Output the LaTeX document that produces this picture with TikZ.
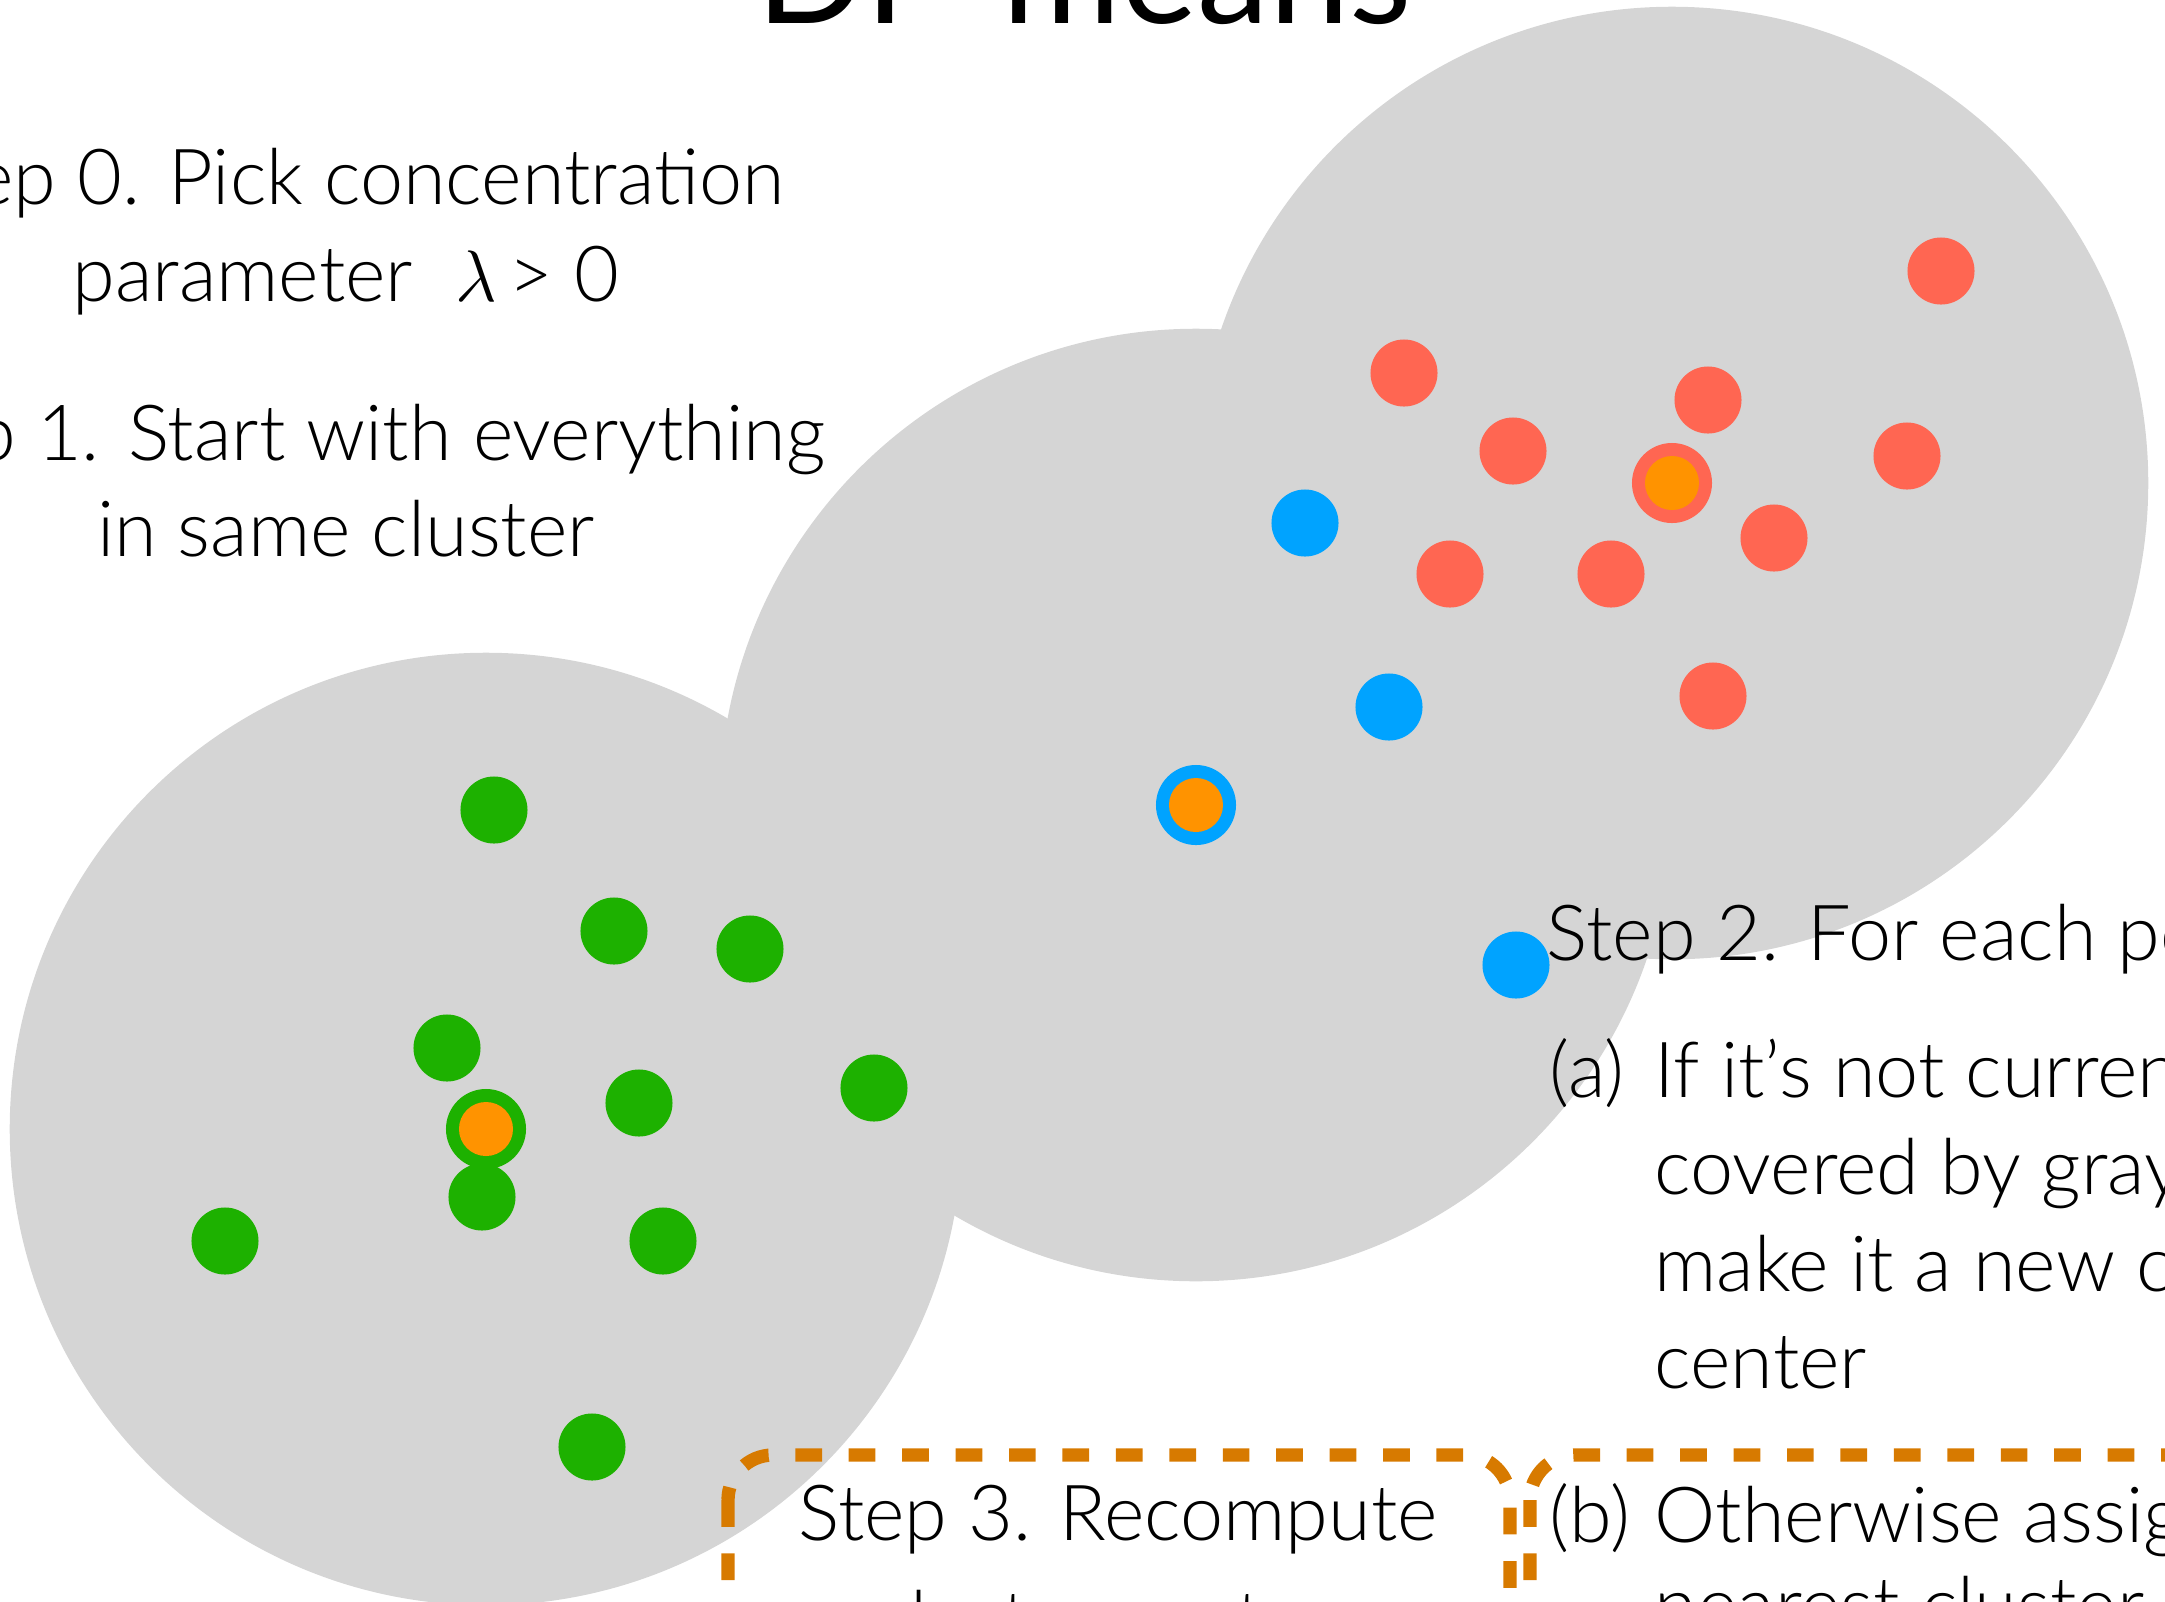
\documentclass[tikz,border=0pt]{standalone}
\usepackage{fontspec}
\setmainfont{Lato Light}
\newfontfamily\titlefont{Lato}
\definecolor{disc}{HTML}{D5D5D5}
\definecolor{cred}{HTML}{FF6652}
\definecolor{cblue}{HTML}{00A3FF}
\definecolor{cgreen}{HTML}{1DB100}
\definecolor{corange}{HTML}{FF9300}
\definecolor{cdash}{HTML}{D77A00}
\tikzset{
  txt/.style={font=\fontsize{22pt}{26pt}\selectfont, inner sep=0pt, text=black},
  pt/.style={circle, fill=#1, draw=none, inner sep=0pt, minimum size=0.67cm},
  ring/.style={circle, fill=#1, draw=none, inner sep=0pt, minimum size=0.80cm},
  core/.style={circle, fill=corange, draw=none, inner sep=0pt, minimum size=0.54cm},
  dashbox/.style={draw=cdash, line width=0.133cm, dash pattern=on 0.267cm off 0.267cm, rounded corners=0.45cm}
}
\begin{document}
\begin{tikzpicture}[x=0.01cm, y=-0.01cm]
\useasboundingbox (0,0) rectangle (2165,1602);
\clip (0,0) rectangle (2165,1602);
% gray discs
\fill[disc] (486,1129) circle[radius=4.76cm];
\fill[disc] (1196,805) circle[radius=4.76cm];
\fill[disc] (1672,483) circle[radius=4.76cm];
% title
\node[anchor=base, font=\titlefont\fontsize{41pt}{49pt}\selectfont, inner sep=0pt] (title) at (1084,23) {DP-means};
% left text
\node[txt, anchor=base] (s0a) at (346,204) {Step 0. Pick concentration};
\node[txt, anchor=base] (s0b) at (346,301) {parameter~ $\lambda\,$> 0};
\node[txt, anchor=base] (s1a) at (346,460) {Step 1. Start with everything};
\node[txt, anchor=base] (s1b) at (346,556) {in same cluster};
% red cluster
\node[pt=cred] (r1) at (1941,271) {};
\node[pt=cred] (r2) at (1404,373) {};
\node[pt=cred] (r3) at (1708,400) {};
\node[pt=cred] (r4) at (1513,451) {};
\node[pt=cred] (r5) at (1907,456) {};
\node[pt=cred] (r7) at (1774,538) {};
\node[pt=cred] (r8) at (1450,574) {};
\node[pt=cred] (r9) at (1611,574) {};
\node[pt=cred] (r10) at (1713,696) {};
\node[ring=cred] (rc) at (1672,483) {};
\node[core] (rcc) at (rc) {};
% blue cluster
\node[pt=cblue] (b1) at (1305,523) {};
\node[pt=cblue] (b2) at (1389,707) {};
\node[ring=cblue] (bc) at (1196,805) {};
\node[core] (bcc) at (bc) {};
% green cluster
\node[pt=cgreen] (g1) at (494,810) {};
\node[pt=cgreen] (g2) at (614,931) {};
\node[pt=cgreen] (g3) at (750,949) {};
\node[pt=cgreen] (g4) at (447,1048) {};
\node[pt=cgreen] (g5) at (639,1103) {};
\node[pt=cgreen] (g6) at (874,1088) {};
\node[pt=cgreen] (g8) at (482,1197) {};
\node[pt=cgreen] (g9) at (225,1241) {};
\node[pt=cgreen] (g10) at (663,1241) {};
\node[pt=cgreen] (g11) at (592,1447) {};
\node[ring=cgreen] (gc) at (486,1129) {};
\node[core] (gcc) at (gc) {};
% new point
\node[pt=cblue] (b4) at (1516,965) {};
% step 2 text
\node[txt, anchor=base west] (s2) at (1546,960) {Step 2. For each point};
\node[txt, anchor=base west] (sa) at (1549,1097) {(a)};
\node[txt, anchor=base west] (sa1) at (1654,1097) {If it’s not currently};
\node[txt, anchor=base west] (sa2) at (1654,1194) {covered by gray,};
\node[txt, anchor=base west] (sa3) at (1654,1291) {make it a new cluster};
\node[txt, anchor=base west] (sa4) at (1654,1388) {center};
% dashed boxes
\draw[dashbox] (728,1455) rectangle (1510,1760);
\draw[dashbox] (1530,1455) rectangle (2300,1760);
% step 3 and (b)
\node[txt, anchor=base] (s3a) at (1118,1540) {Step 3. Recompute};
\node[txt, anchor=base] (s3b) at (1118,1646) {cluster centers};
\node[txt, anchor=base west] (sb) at (1549,1542) {(b)};
\node[txt, anchor=base west] (sb1) at (1654,1542) {Otherwise assign it to};
\node[txt, anchor=base west] (sb2) at (1654,1632) {nearest cluster};
\end{tikzpicture}
\end{document}
